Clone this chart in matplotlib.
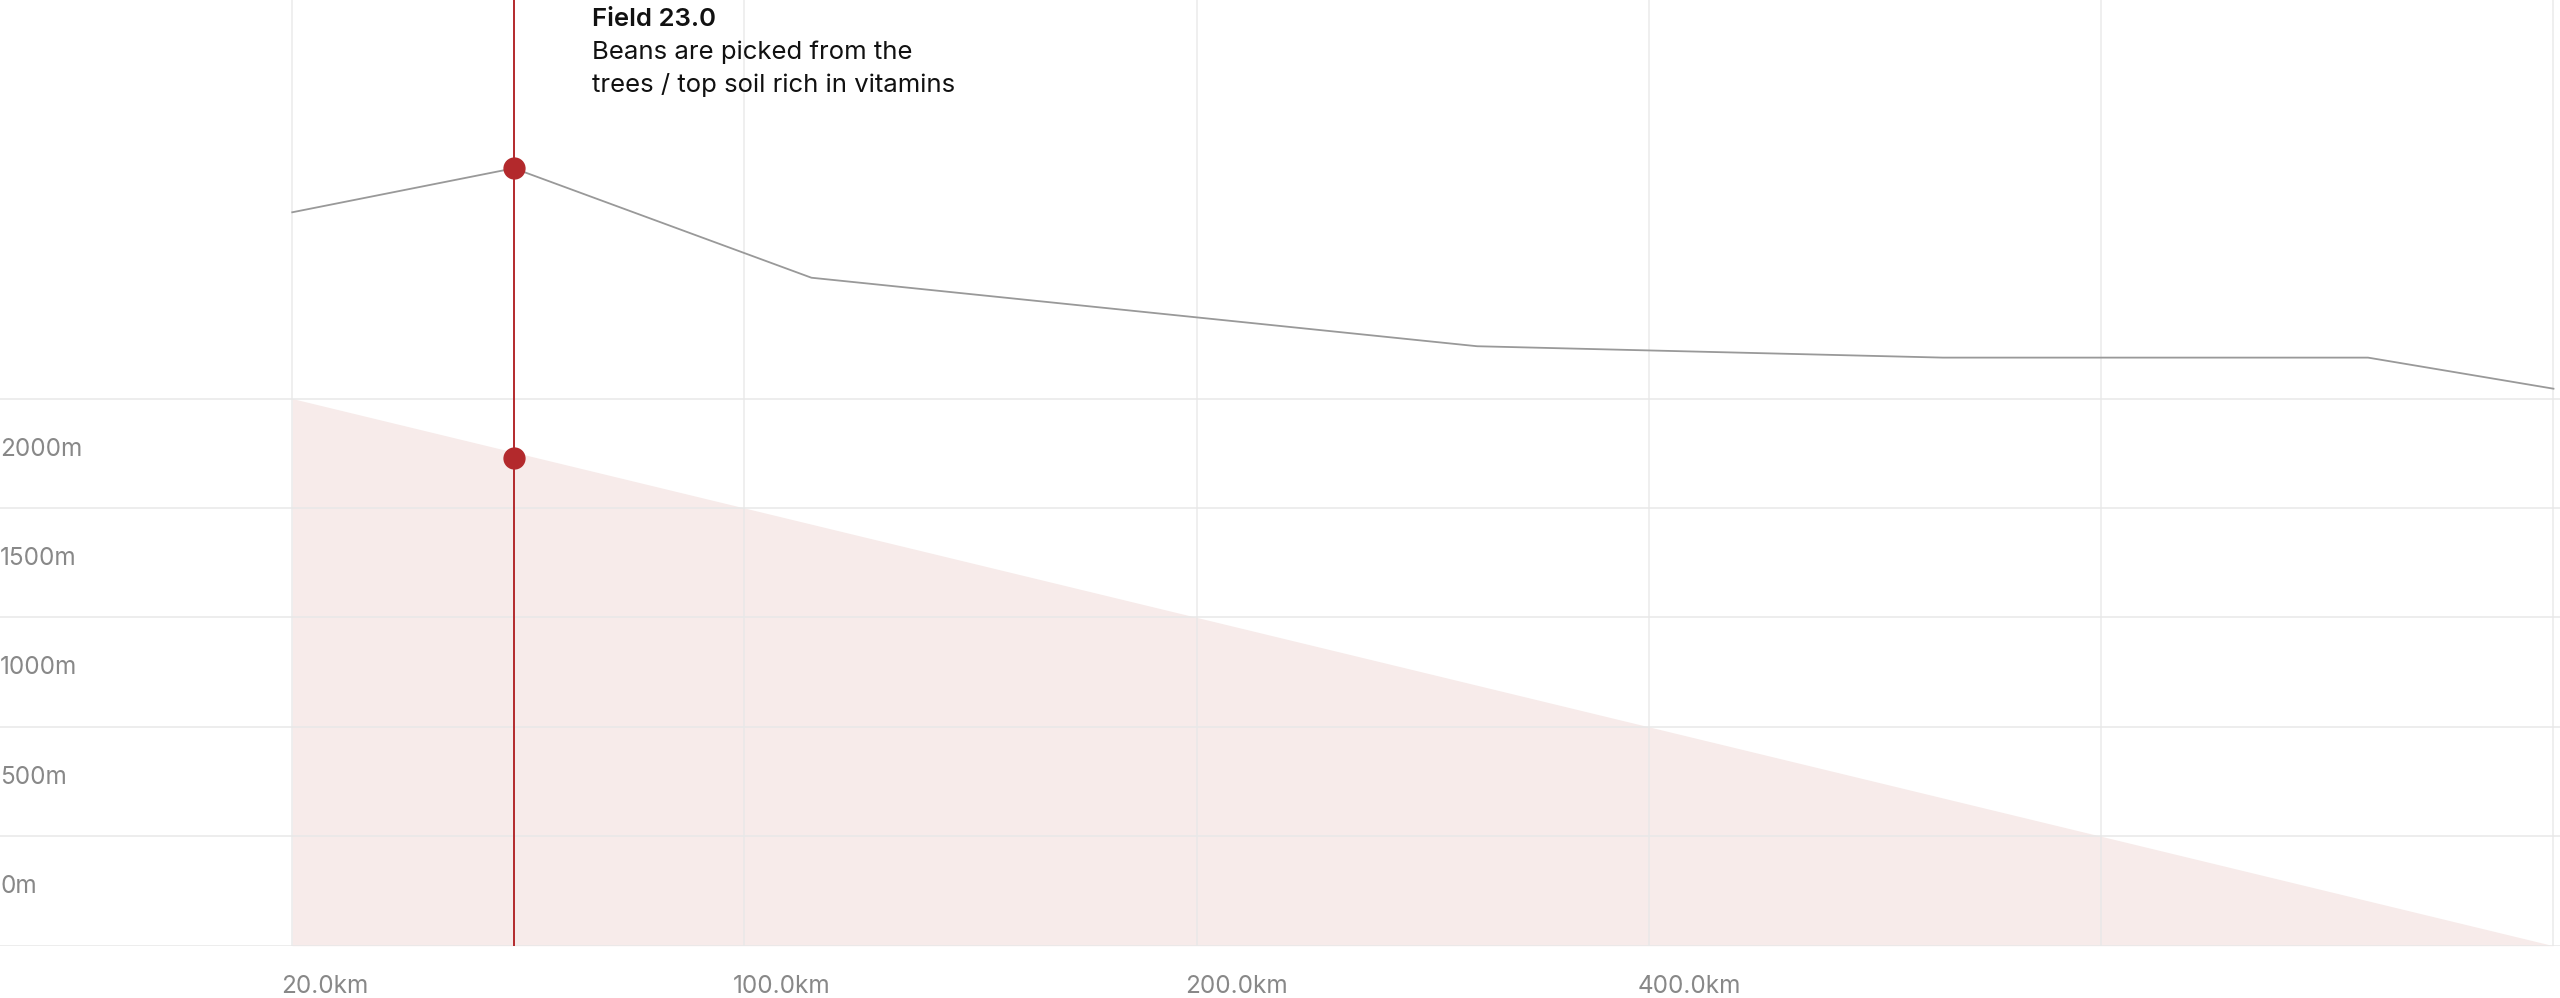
import matplotlib.pyplot as plt

# distance ticks (equally spaced positions)
tick_pos = [0, 1, 2, 3, 4, 5]
tick_labels = ['20.0km', '100.0km', '200.0km', '400.0km', '', '']

# altitude area (m)
area_x = [0, 5.0]
area_y = [2500, 0]

# upper profile line
line_x = [0, 0.49, 1.148, 2.62, 3.65, 4.59, 5.0]
line_y = [3351, 3552, 3052, 2739, 2687, 2687, 2545]

marker_x = 0.49
marker_area_y = 2230
alt_ticks = [0, 500, 1000, 1500, 2000, 2500]
alt_labels = ['0m', '500m', '1000m', '1500m', '2000m']

RED = '#b3292c'
GRID = '#e8e8e8'
UNIT = 277.0

fig = plt.figure(figsize=(25.6, 9.98), dpi=100)
ax = fig.add_axes([0, 1 - 579 / 611, 1, 579 / 611])
ax.set_xlim(-179 / UNIT, (1568 - 179) / UNIT)
ax.set_ylim(0, 579 / 67 * 500)
for s in ax.spines.values():
    s.set_visible(False)
ax.set_xticks([])
ax.set_yticks([])

ax.fill_between(area_x, area_y, 0, color='#f7ebea', lw=0, zorder=0)
for y in alt_ticks:
    ax.axhline(y, color=GRID, lw=1.1, zorder=1)
for x in tick_pos:
    ax.axvline(x, color=GRID, lw=1.1, zorder=1, alpha=0.9)

ax.plot(line_x, line_y, color='#999999', lw=1.3, zorder=2)

ax.axvline(marker_x, color=RED, lw=1.4, zorder=3)
ax.plot([marker_x, marker_x], [line_y[1], marker_area_y], 'o', color=RED,
        ms=15, zorder=4)

for y, lab in zip(alt_ticks, alt_labels):
    ax.text(0.0, y + 269, lab, transform=ax.get_yaxis_transform(),
            ha='left', va='center', fontsize=17.5, color='#888888',
            family='Inter')

for x, lab in zip(tick_pos, tick_labels):
    ax.text(x - 0.025, -25 / 67 * 500, lab, ha='left', va='center',
            fontsize=17.5, color='#888888', family='Inter', clip_on=False)

tx = marker_x + 48 / UNIT
ax.text(tx, (579 - 12) / 67 * 500, 'Field 23.0', ha='left', va='center',
        fontsize=18.5, fontweight='semibold', color='#111111', family='Inter')
ax.text(tx, (579 - 32) / 67 * 500, 'Beans are picked from the', ha='left',
        va='center', fontsize=18.5, color='#111111', family='Inter')
ax.text(tx, (579 - 52) / 67 * 500, 'trees / top soil rich in vitamins',
        ha='left', va='center', fontsize=18.5, color='#111111', family='Inter')

fig.savefig('out.png', dpi=100)
